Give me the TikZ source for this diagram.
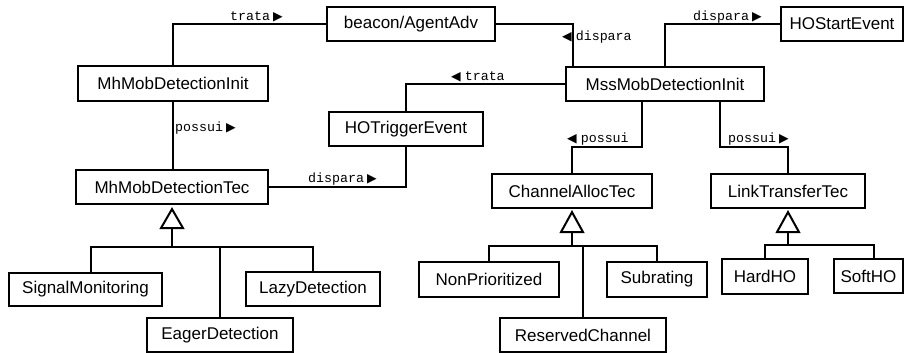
\documentclass[tikz,border=0pt]{standalone}
\usepackage{fontspec}
\setmainfont{Liberation Sans}
\setmonofont{Liberation Mono}
\newfontfamily\symfont{DejaVu Sans}
\usetikzlibrary{calc}
\newcommand{\rtri}{\hspace{3pt}{\symfont\fontsize{12.5}{12.5}\selectfont ▶}}
\newcommand{\ltri}{{\symfont\fontsize{12.5}{12.5}\selectfont ◀}\hspace{4pt}}
\begin{document}
\begin{tikzpicture}[x=1pt,y=-1pt,
  cls/.style={draw, line width=2.2pt, inner sep=0pt, minimum height=35pt,
              font=\fontsize{17}{20}\selectfont},
  assoc/.style={line width=2pt},
  role/.style={anchor=base west, inner sep=0pt, font=\ttfamily\fontsize{13.3}{15}\selectfont},
  gentri/.style={draw, line width=2pt, fill=white, line join=miter}
]
\useasboundingbox (0,0) rectangle (905,353);

% classes
\node[cls, minimum width=168pt, minimum height=34pt] (beacon) at (411,24) {beacon/AgentAdv};
\node[cls, minimum width=122pt, minimum height=34pt] (hostart) at (842,24) {HOStartEvent};
\node[cls, minimum width=190pt] (mhinit) at (173,83.5) {MhMobDetectionInit};
\node[cls, minimum width=198pt, minimum height=34pt] (mssinit) at (665,84) {MssMobDetectionInit};
\node[cls, minimum width=154pt, minimum height=34pt] (hotrig) at (406,129) {HOTriggerEvent};
\node[cls, minimum width=192pt, minimum height=34pt] (mhtec) at (172,187) {MhMobDetectionTec};
\node[cls, minimum width=160pt, minimum height=34pt] (chan) at (572,191) {ChannelAllocTec};
\node[cls, minimum width=154pt, minimum height=34pt] (linkt) at (788,191) {LinkTransferTec};
\node[cls, minimum width=153pt, minimum height=33pt] (sig) at (85.5,289.5) {SignalMonitoring};
\node[cls, minimum width=134pt, minimum height=34pt] (lazy) at (313,289) {LazyDetection};
\node[cls, minimum width=146pt, minimum height=34pt] (eager) at (220,335) {EagerDetection};
\node[cls, minimum width=140pt] (nonpri) at (489,279.5) {NonPrioritized};
\node[cls, minimum width=100pt] (subr) at (657,279.5) {Subrating};
\node[cls, minimum width=166pt, minimum height=34pt] (resv) at (583,335) {ReservedChannel};
\node[cls, minimum width=86pt] (hard) at (765,276.5) {HardHO};
\node[cls, minimum width=69pt, minimum height=34pt] (soft) at (868.5,276) {SoftHO};

% associations
\draw[assoc] (mhinit.north) |- (beacon.west);
\draw[assoc] (beacon.east) -| ($(mssinit.north west)+(8,0)$);
\draw[assoc] (mssinit.north) |- (hostart.west);
\draw[assoc] (mssinit.west) -| (hotrig.north);
\draw[assoc] (hotrig.south) |- (mhtec.east);
\draw[assoc] (mhinit.south) -- (mhinit.south |- mhtec.north);
\draw[assoc] ($(mssinit.south)+(-23,0)$) -- ++(0,45) -| (chan.north);
\draw[assoc] ($(mssinit.south)+(55,0)$) -- ++(0,45) -| (linkt.north);

% role labels
\node[role] (l1) at (230,21) {trata\rtri};
\node[role] (l2) at (175,131) {possui\rtri};
\node[role] (l3) at (308,182) {dispara\rtri};
\node[role] (l4) at (451,81) {\ltri trata};
\node[role] (l5) at (562,41) {\ltri dispara};
\node[role] (l6) at (693,21) {dispara\rtri};
\node[role] (l7) at (567,142) {\ltri possui};
\node[role] (l8) at (728,142) {possui\rtri};

% generalizations
\draw[gentri] ($(mhtec.south)+(0,4)$) -- ++(-11,19) -- ++(22,0) -- cycle;
\coordinate (b1) at ($(mhtec.south)+(0,42)$);
\draw[assoc] ($(mhtec.south)+(0,23)$) -- (b1);
\draw[assoc] ($(sig.north)+(5.5,0)$) |- (b1) -| (lazy.north);
\draw[assoc] (b1 -| eager.north) -- (eager.north);

\draw[gentri] ($(chan.south)+(0,3)$) -- ++(-11,20) -- ++(22,0) -- cycle;
\coordinate (b2) at ($(chan.south)+(0,37)$);
\draw[assoc] ($(chan.south)+(0,23)$) -- (b2);
\draw[assoc] (nonpri.north) |- (b2) -| (subr.north);
\draw[assoc] (b2 -| resv.north) -- (resv.north);

\draw[gentri] ($(linkt.south)+(0,3)$) -- ++(-11,20) -- ++(22,0) -- cycle;
\coordinate (b3) at ($(linkt.south)+(0,36)$);
\draw[assoc] ($(linkt.south)+(0,23)$) -- (b3);
\draw[assoc] (hard.north) |- (b3) -| ($(soft.north)+(5.5,0)$);
\end{tikzpicture}
\end{document}
